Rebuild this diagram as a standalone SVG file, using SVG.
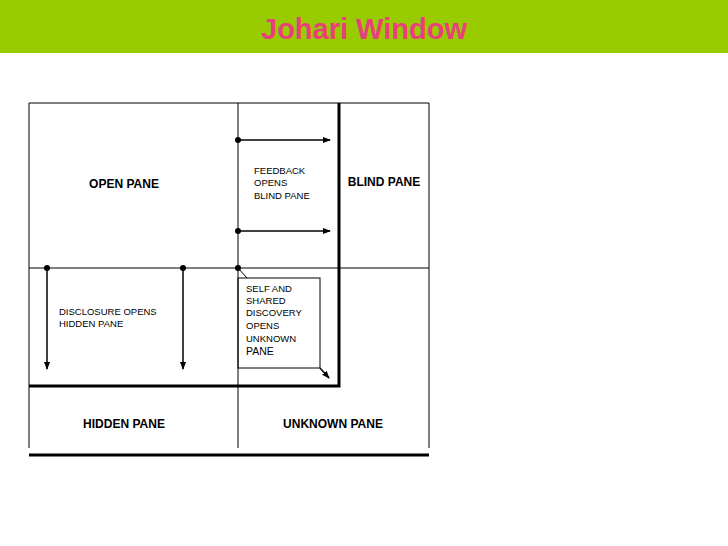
<svg xmlns="http://www.w3.org/2000/svg" width="728" height="546" viewBox="0 0 728 546">
<style>
.t{font-family:"Liberation Sans",Arial,sans-serif;fill:#000}
.s{font-size:9.5px}
.b{font-size:12px;font-weight:bold}
.thin{stroke:#000;stroke-width:1;fill:none}
.thick{stroke:#000;stroke-width:3;fill:none}
.arr{stroke:#000;stroke-width:1.5;fill:none;marker-end:url(#ah)}
</style>
<defs>
<marker id="ah" markerWidth="8" markerHeight="8" refX="7" refY="4" orient="auto" markerUnits="userSpaceOnUse"><path d="M0,1 L8,4 L0,7 Z" fill="#000"/></marker>
</defs>
<rect x="0" y="0" width="728" height="546" fill="#fff"/>
<rect x="0" y="0" width="728" height="53" fill="#99cc00"/>
<text x="364" y="39" text-anchor="middle" font-family="Liberation Sans,Arial,sans-serif" font-size="29" font-weight="bold" fill="#e8407a">Johari Window</text>
<g id="grid">
<path class="thin" d="M29,103 H429 M29,103 V448 M429,103 V448 M238,103 V448 M29,268 H429"/>
<path class="thick" d="M29,386 H339 V103"/>
<path class="thick" d="M29,455 H429" stroke-width="2.5"/>
</g>
<g id="open"><text class="t b" x="124" y="188" text-anchor="middle">OPEN PANE</text></g>
<g id="blind"><text class="t b" x="384" y="186" text-anchor="middle">BLIND PANE</text></g>
<g id="hidden"><text class="t b" x="124" y="428" text-anchor="middle">HIDDEN PANE</text></g>
<g id="unknown"><text class="t b" x="333" y="428" text-anchor="middle">UNKNOWN PANE</text></g>
<g id="feedback"><text class="t s" x="254" y="174">FEEDBACK</text><text class="t s" x="254" y="186">OPENS</text><text class="t s" x="254" y="199">BLIND PANE</text></g>
<g id="disclosure"><text class="t s" x="59" y="315">DISCLOSURE OPENS</text><text class="t s" x="59" y="327">HIDDEN PANE</text></g>
<g id="self"><rect class="thin" x="238" y="278" width="82" height="90"/>
<text class="t s" x="246" y="292">SELF AND</text><text class="t s" x="246" y="304">SHARED</text><text class="t s" x="246" y="316">DISCOVERY</text><text class="t s" x="246" y="329">OPENS</text><text class="t s" x="246" y="342">UNKNOWN</text><text class="t" font-size="10.5" x="246" y="355">PANE</text></g>
<g id="connectors">
<circle cx="238" cy="140" r="3"/><path class="arr" d="M238,140 H330"/>
<circle cx="238" cy="231" r="3"/><path class="arr" d="M238,231 H330"/>
<circle cx="47" cy="268" r="3"/><path class="arr" d="M47,268 V369"/>
<circle cx="183" cy="268" r="3"/><path class="arr" d="M183,268 V369"/>
<circle cx="238" cy="268" r="3"/><path class="thin" stroke-width="1.5" d="M238,268 L247,278"/>
<path class="arr" d="M320,368 L329,378"/>
</g>
</svg>
